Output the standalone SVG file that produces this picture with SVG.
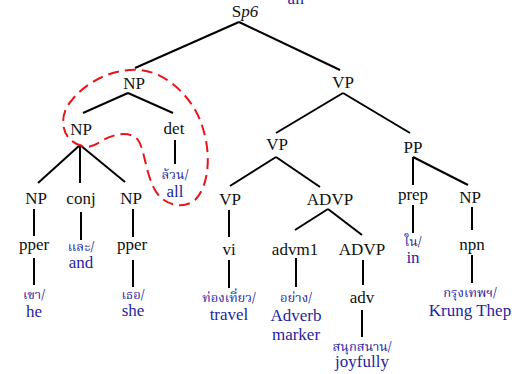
<svg xmlns="http://www.w3.org/2000/svg" width="516" height="374" viewBox="0 0 516 374">
  <style>
    .lbl { font-family: 'Liberation Serif', 'Tinos', 'DejaVu Serif', serif; font-size: 17px; fill: #111; text-anchor: middle; }
    .gl { font-family: 'Liberation Serif', 'Tinos', 'DejaVu Serif', serif; font-size: 17px; fill: #1f1f9f; text-anchor: middle; }
    .th { font-family: 'Noto Serif Thai', 'Noto Sans Thai', 'Liberation Serif', serif; font-size: 13px; fill: #1f1f9f; text-anchor: middle; }
    .edge { stroke: #000; stroke-width: 2; fill: none; }
    .loop { stroke: #e8141b; stroke-width: 2; fill: none; stroke-dasharray: 11 6; }
  </style>
  <rect width="516" height="374" fill="#fff"/>

  <!-- tree branches -->
  <g id="connectors">
    <line class="edge" x1="239" y1="22" x2="135" y2="68"/>
    <line class="edge" x1="239" y1="22" x2="340" y2="70"/>
    <line class="edge" x1="128" y1="93" x2="83" y2="113"/>
    <line class="edge" x1="128" y1="93" x2="173" y2="113"/>
    <line class="edge" x1="80" y1="145" x2="38" y2="183"/>
    <line class="edge" x1="80" y1="145" x2="80" y2="183"/>
    <line class="edge" x1="80" y1="145" x2="125" y2="182"/>
    <line class="edge" x1="175" y1="140" x2="175" y2="164"/>
    <line class="edge" x1="34" y1="209" x2="34" y2="236"/>
    <line class="edge" x1="81" y1="212" x2="81" y2="240"/>
    <line class="edge" x1="133" y1="209" x2="133" y2="237"/>
    <line class="edge" x1="34" y1="258" x2="34" y2="285"/>
    <line class="edge" x1="133" y1="260" x2="133" y2="287"/>
    <line class="edge" x1="343" y1="93" x2="276" y2="133"/>
    <line class="edge" x1="343" y1="93" x2="410" y2="133"/>
    <line class="edge" x1="276" y1="157" x2="230" y2="186"/>
    <line class="edge" x1="276" y1="157" x2="320" y2="187"/>
    <line class="edge" x1="229" y1="210" x2="229" y2="237"/>
    <line class="edge" x1="229" y1="260" x2="229" y2="288"/>
    <line class="edge" x1="328" y1="209" x2="295" y2="230"/>
    <line class="edge" x1="328" y1="209" x2="362" y2="235"/>
    <line class="edge" x1="296" y1="258" x2="296" y2="287"/>
    <line class="edge" x1="363" y1="260" x2="363" y2="285"/>
    <line class="edge" x1="362" y1="310" x2="362" y2="337"/>
    <line class="edge" x1="413" y1="157" x2="413" y2="185"/>
    <line class="edge" x1="413" y1="157" x2="468" y2="185"/>
    <line class="edge" x1="413" y1="205" x2="413" y2="233"/>
    <line class="edge" x1="472" y1="207" x2="472" y2="230"/>
    <line class="edge" x1="472" y1="255" x2="472" y2="283"/>
  </g>

  <!-- dashed loop around the quantified noun phrase -->
  <path class="loop" d="M 82,146 C 60,140 58,115 72,100 C 88,80 115,68 140,70 C 165,72 190,95 200,120 C 212,150 210,185 195,200 C 183,210 163,205 155,190 C 145,172 145,150 138,140 C 130,130 112,134 100,142 C 92,147 86,148 82,146 Z"/>

  <text class="gl" x="296" y="4">all</text>

  <g id="n-s"><text class="lbl" x="245" y="17">S<tspan font-style="italic">p6</tspan></text></g>
  <g id="n-np-top"><text class="lbl" x="134" y="89">NP</text></g>
  <g id="n-np-coord"><text class="lbl" x="81" y="135">NP</text></g>
  <g id="n-det"><text class="lbl" x="174" y="134">det</text></g>
  <g id="n-det-word"><text class="th" x="175" y="179">ล้วน/</text><text class="gl" x="175" y="197">all</text></g>
  <g id="n-np-he"><text class="lbl" x="36" y="204">NP</text></g>
  <g id="n-conj"><text class="lbl" x="81" y="204">conj</text></g>
  <g id="n-np-she"><text class="lbl" x="131" y="204">NP</text></g>
  <g id="n-pper-he"><text class="lbl" x="34" y="250">pper</text></g>
  <g id="n-pper-she"><text class="lbl" x="132" y="250">pper</text></g>
  <g id="n-and"><text class="th" x="81" y="251">และ/</text><text class="gl" x="81" y="268">and</text></g>
  <g id="n-he"><text class="th" x="34" y="299">เขา/</text><text class="gl" x="34" y="317">he</text></g>
  <g id="n-she"><text class="th" x="133" y="299">เธอ/</text><text class="gl" x="133" y="316">she</text></g>

  <g id="n-vp-top"><text class="lbl" x="343" y="88">VP</text></g>
  <g id="n-vp-mid"><text class="lbl" x="277" y="150">VP</text></g>
  <g id="n-pp"><text class="lbl" x="413" y="153">PP</text></g>
  <g id="n-vp-low"><text class="lbl" x="230" y="205">VP</text></g>
  <g id="n-advp"><text class="lbl" x="330" y="205">ADVP</text></g>
  <g id="n-vi"><text class="lbl" x="229" y="255">vi</text></g>
  <g id="n-travel"><text class="th" x="229" y="302">ท่องเที่ยว/</text><text class="gl" x="229" y="320">travel</text></g>
  <g id="n-advm1"><text class="lbl" x="295" y="255">advm1</text></g>
  <g id="n-advp2"><text class="lbl" x="362" y="255">ADVP</text></g>
  <g id="n-marker"><text class="th" x="296" y="302">อย่าง/</text><text class="gl" x="296" y="321">Adverb</text><text class="gl" x="296" y="340">marker</text></g>
  <g id="n-adv"><text class="lbl" x="362" y="303">adv</text></g>
  <g id="n-joyfully"><text class="th" x="362" y="351">สนุกสนาน/</text><text class="gl" x="362" y="367">joyfully</text></g>
  <g id="n-prep"><text class="lbl" x="413" y="200">prep</text></g>
  <g id="n-np-place"><text class="lbl" x="470" y="203">NP</text></g>
  <g id="n-in"><text class="th" x="413" y="246">ใน/</text><text class="gl" x="413" y="263">in</text></g>
  <g id="n-npn"><text class="lbl" x="472" y="250">npn</text></g>
  <g id="n-krungthep"><text class="th" x="470" y="297">กรุงเทพฯ/</text><text class="gl" x="470" y="316">Krung Thep</text></g>
</svg>
